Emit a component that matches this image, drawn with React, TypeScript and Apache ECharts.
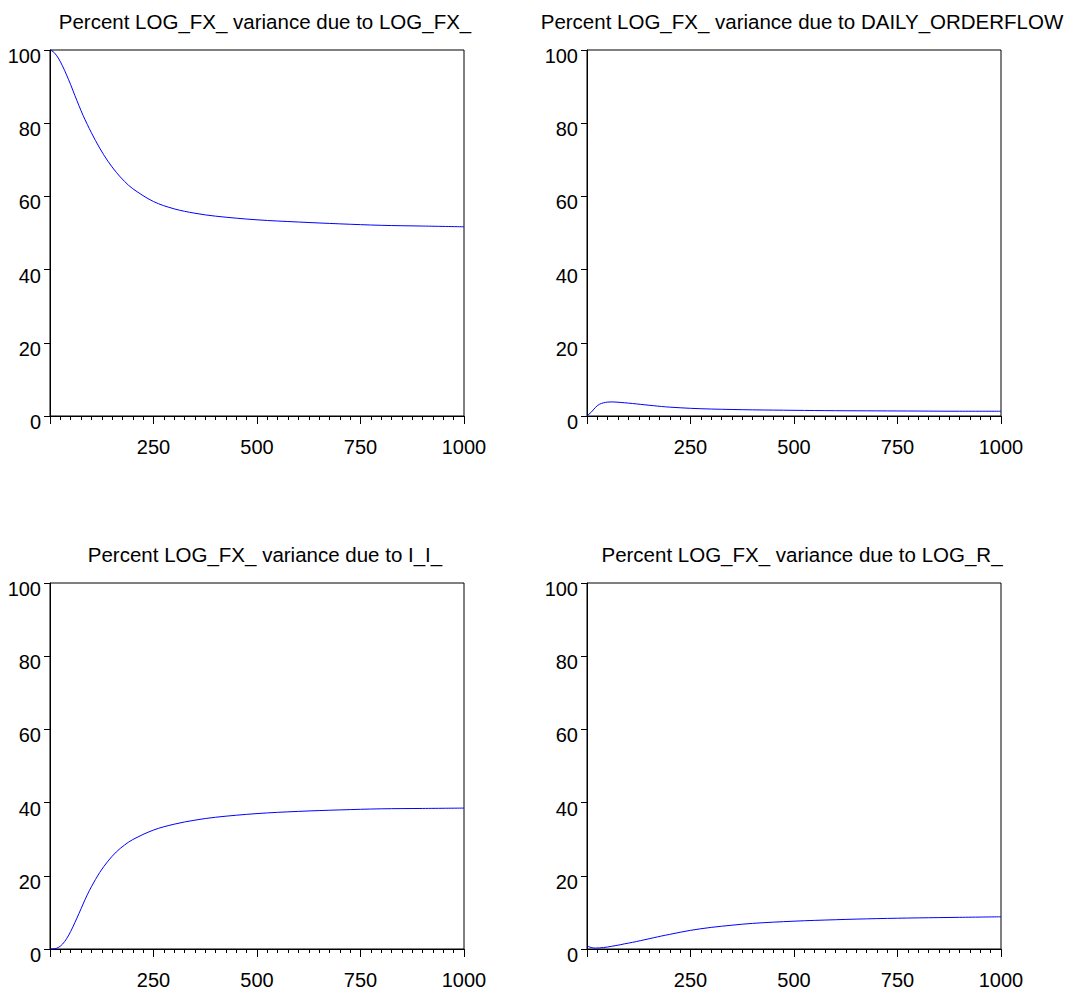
import React, { useEffect, useRef } from "react";
import * as echarts from "echarts";

const horizon = [1, 10, 20, 30, 40, 50, 60, 70, 80, 90, 100, 120, 140, 160, 180, 200, 250, 300, 350, 400, 500, 600, 700, 800, 900, 1000];

const dueToLogFx = [100, 99.3, 97.8, 95.7, 93.2, 90.5, 87.6, 84.8, 82.1, 79.7, 77.4, 73.2, 69.6, 66.6, 64.1, 62.1, 58.6, 56.6, 55.4, 54.6, 53.6, 53.0, 52.5, 52.1, 51.9, 51.7];
const dueToOrderflow = [0.2, 1.0, 2.3, 3.2, 3.6, 3.8, 3.85, 3.8, 3.72, 3.62, 3.52, 3.3, 3.05, 2.82, 2.6, 2.42, 2.1, 1.9, 1.78, 1.68, 1.55, 1.45, 1.4, 1.35, 1.3, 1.3];
const dueToII = [0, 0.05, 0.4, 1.3, 2.8, 4.8, 7.2, 9.7, 12.3, 14.8, 17.0, 20.9, 24.0, 26.5, 28.4, 29.9, 32.5, 34.1, 35.2, 36.0, 37.0, 37.6, 38.0, 38.3, 38.4, 38.5];
const dueToLogR = [0.8, 0.4, 0.25, 0.3, 0.4, 0.55, 0.75, 0.95, 1.15, 1.4, 1.6, 2.05, 2.55, 3.05, 3.55, 4.0, 5.1, 5.9, 6.5, 7.0, 7.6, 8.0, 8.3, 8.5, 8.65, 8.8];

const titles = [
  "Percent LOG_FX_ variance due to LOG_FX_",
  "Percent LOG_FX_ variance due to DAILY_ORDERFLOW",
  "Percent LOG_FX_ variance due to I_I_",
  "Percent LOG_FX_ variance due to LOG_R_",
];
const seriesValues = [dueToLogFx, dueToOrderflow, dueToII, dueToLogR];

const FONT = "'Liberation Sans', Arial, sans-serif";

export default function App() {
  const ref = useRef<HTMLDivElement>(null);
  useEffect(() => {
    if (!ref.current) return;
    const chart = echarts.init(ref.current, null, { renderer: "svg" });
    const grids = [
      { left: 50, top: 50 },
      { left: 587, top: 50 },
      { left: 50, top: 583 },
      { left: 587, top: 583 },
    ];
    const W = 414;
    const H = 366;
    const option: any = {
      animation: false,
      backgroundColor: "#ffffff",
      title: titles.map((t, i) => ({
        text: t,
        left: grids[i].left + W / 2 + 3,
        top: grids[i].top - 44,
        textAlign: "center",
        textStyle: { fontFamily: FONT, fontSize: 20.5, fontWeight: "normal", color: "#000" },
      })),
      grid: grids.map((g) => ({
        left: g.left,
        top: g.top,
        width: W,
        height: H,
        show: true,
        borderColor: "#000",
        borderWidth: 1,
        backgroundColor: "transparent",
      })),
      xAxis: grids.map((_, i) => ({
        type: "value",
        gridIndex: i,
        min: 0,
        max: 1000,
        interval: 250,
        axisLine: { show: true, onZero: false, lineStyle: { color: "#000", width: 1 } },
        axisTick: { show: true, inside: false, length: 8, lineStyle: { color: "#000" } },
        minorTick: { show: true, splitNumber: 10, length: 4, lineStyle: { color: "#000" } },
        splitLine: { show: false },
        axisLabel: {
          show: true,
          margin: 21,
          fontFamily: FONT,
          fontSize: 20,
          color: "#000",
          formatter: (v: number) => (v === 0 ? "" : String(v)),
        },
      })),
      yAxis: grids.map((_, i) => ({
        type: "value",
        gridIndex: i,
        min: 0,
        max: 100,
        interval: 20,
        axisLine: { show: true, lineStyle: { color: "#000", width: 1 } },
        axisTick: { show: true, inside: false, length: 6, lineStyle: { color: "#000" } },
        splitLine: { show: false },
        axisLabel: {
          show: true,
          margin: 9,
          fontFamily: FONT,
          fontSize: 20,
          color: "#000",
          verticalAlign: "top",
          lineHeight: 12,
        },
      })),
      series: seriesValues.map((vals, i) => ({
        type: "line",
        xAxisIndex: i,
        yAxisIndex: i,
        data: horizon.map((h, k) => [h, vals[k]]),
        showSymbol: false,
        symbol: "none",
        smooth: 0.35,
        lineStyle: { color: "#0000ff", width: 1 },
        clip: true,
      })),
    };
    chart.setOption(option);
    return () => chart.dispose();
  }, []);
  return (
    <div
      ref={ref}
      style={{ position: "absolute", left: 0, top: 0, width: 1068, height: 995, background: "#fff" }}
    />
  );
}
